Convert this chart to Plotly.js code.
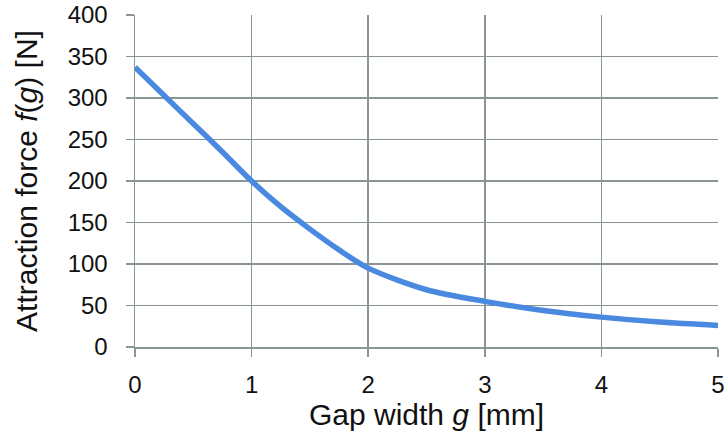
<!DOCTYPE html>
<html>
<head>
<meta charset="utf-8">
<script src="https://cdn.plot.ly/plotly-3.0.1.min.js"></script>
<style>html,body{margin:0;padding:0;background:#fff}#chart{width:728px;height:436px}</style>
</head>
<body>
<div id="chart"></div>
<script>
var gapWidth = [0, 0.25, 0.5, 0.75, 1, 1.25, 1.5, 1.75, 2, 2.5, 3, 3.5, 4, 4.5, 5];
var attractionForce = [337, 303, 269, 235, 200, 169, 142, 117, 95, 69, 55, 44, 36, 30, 26];
var xTicks = [0, 1, 2, 3, 4, 5];
var yTicks = [0, 50, 100, 150, 200, 250, 300, 350, 400];

var gridColor = '#8a9595';
var trace = {
  x: gapWidth, y: attractionForce, type: 'scatter', mode: 'lines',
  line: {color: '#4a89e0', width: 5.5, shape: 'spline', smoothing: 0.8},
  hoverinfo: 'skip'
};
var layout = {
  width: 728, height: 436,
  margin: {l: 135, r: 10, t: 15, b: 89},
  paper_bgcolor: '#fff', plot_bgcolor: '#fff',
  showlegend: false,
  xaxis: {
    range: [0, 5], tickvals: xTicks, ticktext: xTicks.map(String),
    automargin: false,
    showgrid: true, gridcolor: gridColor, gridwidth: 1.5,
    showline: true, linecolor: gridColor, linewidth: 1.5,
    ticks: 'outside', ticklen: 8, tickcolor: gridColor, tickwidth: 1.5,
    zeroline: false, ticklabelstandoff: 8,
    tickfont: {family: 'Liberation Sans', size: 24, color: '#111'},
    title: {text: 'Gap width <i>g</i> [mm]', standoff: 2,
            font: {family: 'Liberation Sans', size: 30, color: '#111'}}
  },
  yaxis: {
    range: [0, 400], tickvals: yTicks, ticktext: yTicks.map(String),
    automargin: false,
    showgrid: true, gridcolor: gridColor, gridwidth: 1.5,
    showline: true, linecolor: gridColor, linewidth: 1.5,
    ticks: 'outside', ticklen: 8, tickcolor: gridColor, tickwidth: 1.5,
    zeroline: false, ticklabelstandoff: 13,
    tickfont: {family: 'Liberation Sans', size: 24, color: '#111'},
    title: {text: 'Attraction force <i>f</i>(<i>g</i>) [N]', standoff: 21,
            font: {family: 'Liberation Sans', size: 30, color: '#111'}}
  }
};
Plotly.newPlot('chart', [trace], layout, {staticPlot: true, displayModeBar: false});
</script>
</body>
</html>
